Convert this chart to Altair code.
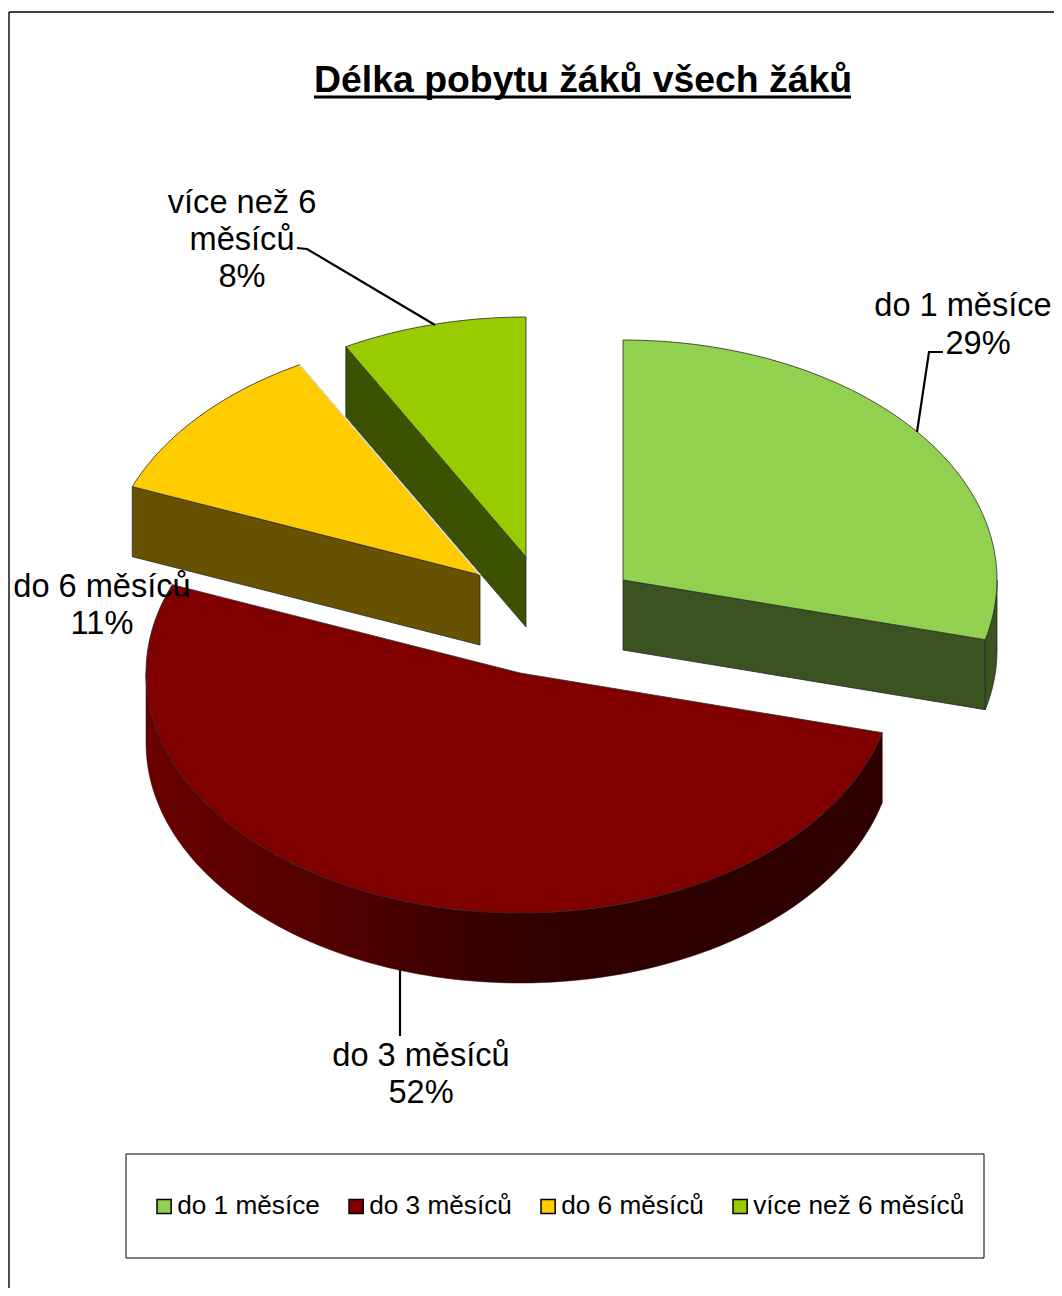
import math
import altair as alt
import pandas as pd

# ---- chart values ----
CATEGORIES = ["do 1 měsíce", "do 3 měsíců", "do 6 měsíců", "více než 6 měsíců"]
VALUES = [29, 52, 11, 8]
TOP_COLORS = ["#92D050", "#800000", "#FFCC00", "#99CC00"]
SIDE_COLORS = ["#3A5320", "#2E0000", "#665200", "#3D5200"]
LABEL_TEXTS = ["do 1 měsíce", "29%", "do 3 měsíců\n52%", "do 6 měsíců\n11%", "více než 6\nměsíců\n8%"]
TITLE = "Délka pobytu žáků všech žáků"

# ---- layout (page pixels) ----
W, H = 1046, 1280
CENTERS = [(623, 580), (520, 673), (480, 575), (526, 557)]
RX, RY, DEPTH = 374, 240, 70
LABEL_X = [963, 978, 421, 102, 242]
LABEL_Y = [316, 354, 1066, 597, 213]
FONT = "Liberation Sans"
EDGE = "#2a2a2a"

X = alt.X("x:Q", scale=alt.Scale(domain=[8, 8 + W], range=[0, W]), axis=None)
Y = alt.Y("y:Q", scale=alt.Scale(domain=[8 + H, 8], range=[H, 0]), axis=None)


def pt(center, t, drop=0):
    a = math.radians(t)
    return center[0] + RX * math.sin(a), center[1] - RY * math.cos(a) + drop


def arc(center, t0, t1, drop=0, step=1.5):
    n = max(2, int(abs(t1 - t0) / step))
    return [pt(center, t0 + (t1 - t0) * k / n, drop) for k in range(n + 1)]


def poly(points, close=True):
    pts = list(points) + ([points[0]] if close else [])
    return pd.DataFrame({"x": [p[0] for p in pts], "y": [p[1] for p in pts], "i": range(len(pts))})


def layer_poly(points, fill, stroke=EDGE, width=0.8):
    return alt.Chart(poly(points)).mark_line(fill=fill, stroke=stroke, strokeWidth=width).encode(
        x=X, y=Y, order="i:Q"
    )


# slice angles
total = sum(VALUES)
edges = [0]
for v in VALUES:
    edges.append(edges[-1] + v / total * 360)
SPAN = [(edges[i], edges[i + 1]) for i in range(len(VALUES))]

layers = []

# frame
frame = pd.DataFrame({"x": [9, 9], "x2": [8 + W, 9], "y": [12, 12], "y2": [12, 8 + H]})
layers.append(alt.Chart(frame.iloc[[0]]).mark_rule(color="black", strokeWidth=1.4).encode(x=X, x2="x2:Q", y=Y))
layers.append(alt.Chart(frame.iloc[[1]]).mark_rule(color="black", strokeWidth=1.4).encode(x=X, y=Y, y2="y2:Q"))

# legend box
box = pd.DataFrame({"x": [126], "x2": [984], "y": [1154], "y2": [1258]})
layers.append(alt.Chart(box).mark_rect(fill="white", stroke="black", strokeWidth=1).encode(x=X, x2="x2:Q", y=Y, y2="y2:Q"))

# side faces: green
c = CENTERS[0]
s, e = SPAN[0]
end_top = pt(c, e)
layers.append(layer_poly([c, end_top, pt(c, e, DEPTH), (c[0], c[1] + DEPTH)], SIDE_COLORS[0]))
layers.append(layer_poly(arc(c, 90, e) + arc(c, e, 90, DEPTH), SIDE_COLORS[0]))

# side faces: red rim with its shading
c = CENTERS[1]
s, e = SPAN[1]
rim_fill = {
    "gradient": "linear", "x1": 0, "x2": 1, "y1": 0, "y2": 0,
    "stops": [
        {"offset": 0, "color": "#6a0000"},
        {"offset": 0.18, "color": "#580000"},
        {"offset": 0.30, "color": "#4c0000"},
        {"offset": 0.44, "color": "#3a0000"},
        {"offset": 0.58, "color": SIDE_COLORS[1]},
        {"offset": 1, "color": SIDE_COLORS[1]},
    ],
}
layers.append(layer_poly(arc(c, s, 270) + arc(c, 270, s, DEPTH), rim_fill, stroke="#3a0000", width=0.5))

# side faces: lime, then yellow
c = CENTERS[3]
s, e = SPAN[3]
start_top = pt(c, s)
layers.append(layer_poly([start_top, c, (c[0], c[1] + DEPTH), pt(c, s, DEPTH)], SIDE_COLORS[3]))
c = CENTERS[2]
s, e = SPAN[2]
layers.append(layer_poly([pt(c, s), c, (c[0], c[1] + DEPTH), pt(c, s, DEPTH)], SIDE_COLORS[2]))

# top faces, carrying the legend
rows = []
for cat, center, (s, e) in zip(CATEGORIES, CENTERS, SPAN):
    pts = [center] + arc(center, s, e) + [center]
    for i, (x, y) in enumerate(pts):
        rows.append({"cat": cat, "x": x, "y": y, "i": i})
tops = pd.DataFrame(rows)
layers.append(
    alt.Chart(tops).mark_line(stroke=EDGE, strokeWidth=0.8, filled=True).encode(
        x=X, y=Y, order="i:Q",
        fill=alt.Fill(
            "cat:N",
            scale=alt.Scale(domain=CATEGORIES, range=TOP_COLORS),
            legend=alt.Legend(
                orient="none", legendX=141, legendY=1185, direction="horizontal", columns=4,
                title=None, padding=0, symbolType="square", symbolSize=200, symbolStrokeColor="black",
                symbolStrokeWidth=1.5, labelFont=FONT, labelFontSize=26.2, labelColor="black",
                labelOffset=0, columnPadding=21, labelLimit=400, symbolOffset=2,
            ),
        ),
        stroke=alt.value(EDGE),
    )
)

# pale hairline between yellow and the lime side
c = CENTERS[2]
layers.append(
    alt.Chart(poly([pt(c, SPAN[2][1]), c], close=False)).mark_line(color="#e8e8e8", strokeWidth=1.2).encode(x=X, y=Y, order="i:Q")
)

# leader lines
LEADERS = [
    [(943, 352), (929, 352), (917, 432)],
    [(400, 970), (400, 1036)],
    [(297, 248), (307, 249), (435, 325)],
]
for line in LEADERS:
    layers.append(
        alt.Chart(poly(line, close=False)).mark_line(color="black", strokeWidth=2.2).encode(x=X, y=Y, order="i:Q")
    )

# data labels
labels = pd.DataFrame({"x": LABEL_X, "y": LABEL_Y, "t": LABEL_TEXTS})
layers.append(
    alt.Chart(labels).mark_text(
        font=FONT, fontSize=32.6, lineBreak="\n", lineHeight=37, align="center", baseline="alphabetic", color="black"
    ).encode(x=X, y=Y, text="t:N")
)

# title underline
ul = pd.DataFrame({"x": [314], "x2": [851], "y": [97]})
layers.append(alt.Chart(ul).mark_rule(color="black", strokeWidth=3.2).encode(x=X, x2="x2:Q", y=Y))

chart = (
    alt.layer(*layers)
    .properties(
        width=W, height=H, padding=0, autosize=alt.AutoSizeParams(type="none"),
        title=alt.TitleParams(
            TITLE, anchor="start", orient="top", frame="group", offset=0, dx=306, dy=121, baseline="alphabetic",
            font=FONT, fontSize=37.4, fontWeight="bold", color="black",
        ),
    )
    .configure_view(stroke=None)
)
chart.save("out.html", embed_options={"renderer": "svg", "actions": False})
